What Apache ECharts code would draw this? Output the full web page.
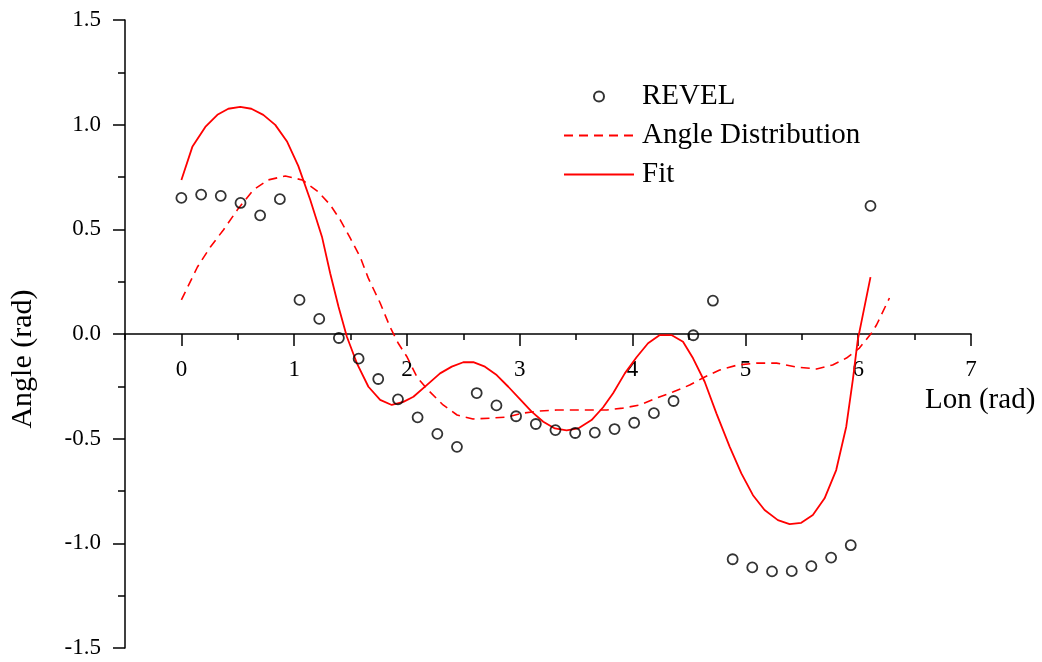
<!DOCTYPE html>
<html>
<head>
<meta charset="utf-8">
<script src="https://cdn.jsdelivr.net/npm/echarts@6/dist/echarts.min.js"></script>
<style>
    html, body { margin: 0; padding: 0; background: #fff; }
    #chart { width: 1042px; height: 662px; }
</style>
</head>
<body>
<div id="chart"></div>
<script type="text/javascript">
    // REVEL points, every 10 degrees of longitude
    var revelLon = [0, 0.175, 0.349, 0.524, 0.698, 0.873, 1.047, 1.222, 1.396, 1.571, 1.745, 1.920,
        2.094, 2.269, 2.443, 2.618, 2.793, 2.967, 3.142, 3.316, 3.491, 3.665, 3.840, 4.014,
        4.189, 4.363, 4.538, 4.712, 4.887, 5.061, 5.236, 5.411, 5.585, 5.760, 5.934, 6.109];
    var revelAngle = [0.650, 0.666, 0.660, 0.626, 0.567, 0.644, 0.163, 0.072, -0.019, -0.118, -0.215, -0.312,
        -0.398, -0.477, -0.539, -0.282, -0.341, -0.393, -0.430, -0.459, -0.473, -0.471, -0.454, -0.424,
        -0.378, -0.320, -0.006, 0.159, -1.076, -1.115, -1.134, -1.133, -1.109, -1.068, -1.009, 0.612];

    // dashed curve
    var distLon = [0, 0.142, 0.257, 0.372, 0.496, 0.637, 0.770, 0.921, 1.071, 1.213, 1.319, 1.408,
        1.496, 1.585, 1.656, 1.762, 1.850, 1.921, 2.001, 2.089, 2.187, 2.320, 2.444, 2.585,
        2.736, 2.886, 3.028, 3.178, 3.329, 3.471, 3.621, 3.772, 3.913, 4.064, 4.214, 4.356,
        4.506, 4.622, 4.772, 4.931, 5.100, 5.277, 5.454, 5.631, 5.773, 5.896, 6.011, 6.118,
        6.162, 6.277];
    var distAngle = [0.163, 0.320, 0.416, 0.497, 0.593, 0.688, 0.736, 0.755, 0.736, 0.679, 0.617, 0.545,
        0.459, 0.368, 0.268, 0.148, 0.033, -0.043, -0.110, -0.206, -0.268, -0.339, -0.387, -0.406,
        -0.402, -0.397, -0.378, -0.368, -0.363, -0.363, -0.363, -0.363, -0.354, -0.339, -0.306, -0.277,
        -0.244, -0.210, -0.172, -0.148, -0.139, -0.139, -0.158, -0.167, -0.148, -0.115, -0.067, 0.005,
        0.043, 0.172];

    // solid fit curve
    var fitLon = [0, 0.097, 0.212, 0.319, 0.416, 0.522, 0.620, 0.726, 0.832, 0.938, 1.036, 1.142,
        1.246, 1.319, 1.393, 1.467, 1.556, 1.658, 1.762, 1.865, 1.968, 2.057, 2.175, 2.293,
        2.397, 2.499, 2.588, 2.691, 2.795, 2.898, 3.001, 3.105, 3.208, 3.311, 3.415, 3.517,
        3.636, 3.739, 3.827, 3.931, 4.035, 4.137, 4.241, 4.344, 4.447, 4.536, 4.639, 4.743,
        4.861, 4.964, 5.067, 5.170, 5.288, 5.392, 5.495, 5.598, 5.702, 5.805, 5.894, 5.952,
        5.996, 6.109];
    var fitAngle = [0.736, 0.894, 0.989, 1.047, 1.076, 1.085, 1.076, 1.047, 0.999, 0.918, 0.803, 0.641,
        0.465, 0.290, 0.130, -0.013, -0.140, -0.252, -0.315, -0.339, -0.324, -0.300, -0.244, -0.188,
        -0.156, -0.135, -0.134, -0.156, -0.196, -0.252, -0.311, -0.371, -0.419, -0.451, -0.460, -0.451,
        -0.411, -0.350, -0.283, -0.188, -0.111, -0.044, -0.005, -0.005, -0.037, -0.116, -0.228, -0.379,
        -0.539, -0.666, -0.770, -0.841, -0.889, -0.908, -0.902, -0.865, -0.785, -0.650, -0.443, -0.220,
        -0.029, 0.272];

    var majorTicks = [0, 1, 2, 3, 4, 5, 6, 7];

    function pairs(xs, ys) {
        return xs.map(function (x, i) { return [x, ys[i]]; });
    }

    var serif = '"Liberation Serif", "Times New Roman", serif';
    var hideSymbol = { color: 'rgba(0,0,0,0)', borderWidth: 0, opacity: 0 };
    // plot is 628px tall, so y = 0 sits 314px above the bottom edge
    var zeroOffset = -314;
    var myChart = echarts.init(document.getElementById('chart'));

    option = {
        animation: false,
        textStyle: { fontFamily: serif, color: '#000' },
        grid: { left: 125, right: 71, top: 20, bottom: 14, containLabel: false, outerBoundsMode: 'none' },
        legend: {
            orient: 'vertical',
            left: 563,
            top: 82,
            padding: 0,
            itemWidth: 70,
            itemHeight: 10,
            itemGap: 10,
            textStyle: { fontFamily: serif, fontSize: 29, color: '#000', padding: [0, 0, 0, 3] },
            data: [
                { name: 'REVEL' },
                { name: 'Angle Distribution', itemStyle: hideSymbol },
                { name: 'Fit', itemStyle: hideSymbol }
            ]
        },
        xAxis: [
            {
                type: 'value',
                min: -0.5,
                max: 7,
                interval: 0.5,
                position: 'bottom',
                offset: zeroOffset,
                name: 'Lon (rad)',
                nameLocation: 'end',
                nameGap: -46,
                nameTextStyle: {
                    fontFamily: serif, fontSize: 29, color: '#000',
                    verticalAlign: 'top', lineHeight: 132
                },
                axisLine: { show: true, onZero: false, lineStyle: { color: '#000', width: 1.5 } },
                axisTick: { show: true, length: 6, lineStyle: { color: '#000', width: 1.5 } },
                axisLabel: { show: false },
                splitLine: { show: false }
            },
            {
                // integer ticks and labels, laid over the half-unit ticks
                type: 'value',
                min: -0.5,
                max: 7,
                interval: 0.5,
                position: 'bottom',
                offset: zeroOffset,
                axisLine: { show: false, onZero: false },
                axisTick: { show: true, length: 12, customValues: majorTicks, lineStyle: { color: '#000', width: 1.5 } },
                axisLabel: {
                    show: true,
                    customValues: majorTicks,
                    margin: 24,
                    fontFamily: serif,
                    fontSize: 23,
                    color: '#000'
                },
                splitLine: { show: false }
            }
        ],
        yAxis: {
            type: 'value',
            min: -1.5,
            max: 1.5,
            interval: 0.5,
            name: 'Angle (rad)',
            nameLocation: 'middle',
            nameGap: 87,
            nameTextStyle: { fontFamily: serif, fontSize: 30, color: '#000', padding: [0, 50, 0, 0] },
            axisLine: { show: true, onZero: false, lineStyle: { color: '#000', width: 1.5 } },
            axisTick: { show: true, length: 12, lineStyle: { color: '#000', width: 1.5 } },
            minorTick: { show: true, splitNumber: 2, length: 7, lineStyle: { color: '#000', width: 1.5 } },
            axisLabel: {
                margin: 24,
                fontFamily: serif,
                fontSize: 23,
                color: '#000',
                formatter: function (v) { return v.toFixed(1); }
            },
            splitLine: { show: false },
            minorSplitLine: { show: false }
        },
        series: [
            {
                name: 'REVEL',
                type: 'scatter',
                xAxisIndex: 0,
                symbol: 'circle',
                symbolSize: 10,
                itemStyle: { color: 'rgba(255,255,255,0)', borderColor: '#000', borderWidth: 1.8 },
                data: pairs(revelLon, revelAngle),
                z: 3
            },
            {
                name: 'Angle Distribution',
                type: 'line',
                xAxisIndex: 0,
                showSymbol: false,
                symbol: 'none',
                lineStyle: { color: '#ff0000', width: 1.6, type: [9, 6] },
                itemStyle: { color: '#ff0000' },
                data: pairs(distLon, distAngle)
            },
            {
                name: 'Fit',
                type: 'line',
                xAxisIndex: 0,
                showSymbol: false,
                symbol: 'none',
                lineStyle: { color: '#ff0000', width: 1.8 },
                itemStyle: { color: '#ff0000' },
                data: pairs(fitLon, fitAngle)
            }
        ]
    };
    myChart.setOption(option);
</script>
</body>
</html>
